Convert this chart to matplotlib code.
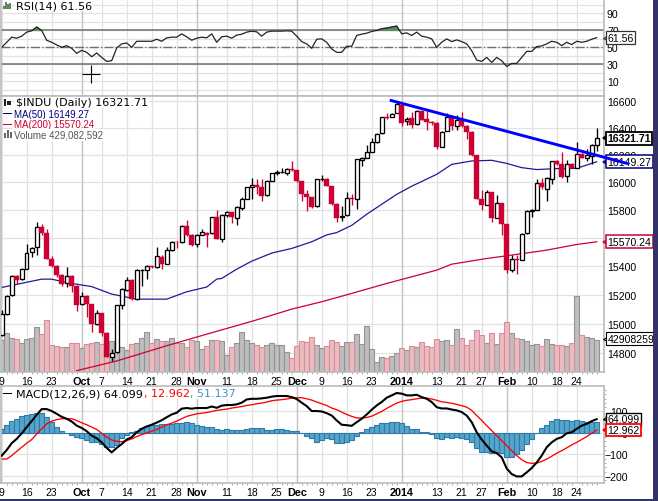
import matplotlib
matplotlib.use("Agg")
import numpy as np
import matplotlib.pyplot as plt
from matplotlib.patches import Rectangle

W, H = 658, 502

opens = [14925, 15065, 15194, 15326, 15305, 15379, 15495, 15530, 15677, 15635, 15451, 15400, 15334, 15280, 15328,
         15258, 15134, 15190, 15132, 14994, 15070, 14935, 14776, 14808, 15125, 15230, 15300, 15170, 15370, 15372,
         15399, 15392, 15466, 15415, 15512, 15570, 15570, 15680, 15620, 15555, 15620, 15635, 15630, 15750,
         15593, 15760, 15780, 15740, 15809, 15877, 15962, 15976, 15967, 15905, 16010, 16066, 16072, 16070, 16098,
         16085, 16005, 15910, 15889, 15825, 16020, 16025, 15970, 15840, 15745, 15760, 15886, 15875, 16165, 16180,
         16225, 16295, 16360, 16480, 16484, 16512, 16572, 16456, 16472, 16430, 16527, 16470, 16444, 16437,
         16258, 16377, 16480, 16415, 16460, 16414, 16372, 16197, 15879, 15837, 15925, 15740, 15845, 15698, 15372,
         15445, 15443, 15630, 15794, 15801, 15994, 15950, 16020, 16154, 16135, 16042, 16135, 16105, 16208, 16180,
         16195, 16272]
highs = [15091, 15200, 15335, 15333, 15385, 15552, 15535, 15709, 15700, 15660, 15470, 15405, 15340, 15395, 15335,
         15265, 15215, 15200, 15135, 15095, 15075, 14940, 14830, 15130, 15245, 15320, 15310, 15380, 15380, 15405,
         15402, 15530, 15475, 15530, 15575, 15575, 15690, 15728, 15625, 15625, 15660, 15640, 15750, 15795,
         15770, 15790, 15785, 15830, 15890, 15965, 16030, 16020, 16020, 16015, 16070, 16085, 16105, 16100, 16155,
         16090, 16010, 15945, 15895, 16025, 16050, 16030, 15975, 15845, 15825, 15930, 15915, 16170, 16185, 16275,
         16325, 16360, 16482, 16515, 16510, 16605, 16575, 16485, 16520, 16535, 16530, 16525, 16450, 16445,
         16380, 16510, 16490, 16495, 16520, 16420, 16375, 16200, 15945, 15940, 15930, 15905, 15850, 15700, 15480,
         15480, 15632, 15797, 15805, 16025, 16030, 16035, 16158, 16160, 16224, 16160, 16140, 16298, 16215, 16240,
         16278, 16400]
lows = [14915, 15060, 15190, 15270, 15300, 15375, 15460, 15480, 15620, 15445, 15390, 15325, 15260, 15250, 15215,
        15085, 15125, 15045, 14945, 14990, 14915, 14770, 14745, 14800, 15100, 15225, 15165, 15165, 15260, 15310,
        15385, 15385, 15375, 15410, 15505, 15525, 15565, 15610, 15540, 15535, 15615, 15530, 15625, 15590,
        15570, 15750, 15705, 15690, 15800, 15875, 15880, 15910, 15860, 15900, 16005, 16050, 16065, 16050, 16080,
        16000, 15865, 15790, 15810, 15820, 16010, 15968, 15835, 15710, 15720, 15755, 15835, 15805, 16120, 16175,
        16222, 16290, 16355, 16465, 16480, 16510, 16415, 16425, 16400, 16425, 16460, 16385, 16425, 16240,
        16255, 16375, 16385, 16385, 16410, 16320, 16195, 15875, 15795, 15835, 15712, 15738, 15615, 15352, 15360,
        15340, 15440, 15625, 15745, 15798, 15950, 15865, 15985, 16125, 16030, 16000, 16100, 16100, 16175, 16155,
        16130, 16230]
closes = [15063, 15191, 15326, 15300, 15376, 15494, 15529, 15676, 15636, 15451, 15401, 15334, 15273, 15328, 15258,
          15129, 15191, 15133, 14996, 15072, 14936, 14776, 14802, 15126, 15237, 15301, 15168, 15373, 15371, 15399,
          15392, 15467, 15413, 15509, 15570, 15568, 15680, 15618, 15545, 15615, 15639, 15618, 15746, 15593,
          15761, 15783, 15750, 15821, 15876, 15961, 15976, 15967, 15900, 16009, 16064, 16072, 16072, 16097, 16086,
          16008, 15914, 15889, 15821, 16020, 16025, 15973, 15843, 15739, 15755, 15884, 15875, 16167, 16179, 16221,
          16294, 16357, 16479, 16478, 16504, 16577, 16441, 16469, 16425, 16530, 16462, 16444, 16437, 16257,
          16373, 16481, 16417, 16458, 16414, 16373, 16197, 15879, 15837, 15928, 15738, 15848, 15698, 15372, 15445,
          15440, 15628, 15794, 15801, 15994, 15963, 16027, 16154, 16130, 16040, 16133, 16103, 16207, 16179, 16198,
          16272, 16321.71]
volumes = [429, 517, 451, 438, 385, 438, 451, 597, 508, 694, 362, 340, 332, 332, 385, 385, 318, 376, 385, 398,
           376, 305, 407, 398, 332, 296, 371, 385, 451, 530, 385, 442, 415, 415, 451, 385, 385, 327, 429, 407,
           305, 349, 429, 420, 407, 230, 332, 385, 530, 429, 385, 354, 327, 354, 385, 362, 362, 265, 186, 340,
           411, 398, 464, 362, 318, 340, 429, 402, 340, 398, 398, 508, 376, 614, 305, 133, 199, 186, 217, 252,
           318, 292, 349, 332, 398, 349, 336, 438, 411, 420, 354, 566, 446, 354, 429, 552, 495, 389, 513, 376,
           513, 659, 522, 455, 433, 411, 354, 367, 345, 433, 367, 362, 362, 349, 389, 1003, 495, 460, 455, 429]

# moving averages, read at the bars where the curve bends
ma50_bars = [0, 8, 10, 13, 18, 22, 25, 27, 33, 37, 41, 43, 44, 47, 50, 54, 58, 62, 65, 67, 70, 73, 76, 79, 82, 87,
             90, 94, 98, 101, 104, 107, 111, 115, 119]
ma50 = [15249, 15307, 15307, 15283, 15255, 15203, 15182, 15168, 15168, 15219, 15252, 15307, 15312, 15377, 15433,
        15490, 15523, 15570, 15619, 15636, 15687, 15767, 15839, 15911, 15970, 16057, 16130, 16155, 16160, 16137,
        16106, 16092, 16099, 16101, 16149.27]
ma200_bars = [15, 23, 33, 43, 50, 58, 64, 69, 77, 87, 90, 97, 101, 109, 115, 119]
ma200 = [14681, 14746, 14849, 14947, 15015, 15099, 15150, 15198, 15277, 15370, 15412, 15452, 15471, 15511, 15551,
         15570.24]

rsi = [50.2, 56.1, 62.1, 60.9, 63.3, 68.0, 69.6, 74.0, 70.0, 58.5, 56.1, 53.0, 50.2, 52.2, 49.0, 43.1, 46.6, 44.3,
       39.1, 43.5, 38.3, 33.6, 34.4, 49.4, 54.2, 55.3, 50.2, 57.3, 57.3, 57.3, 57.3, 59.7, 57.3, 61.3, 62.1, 62.1,
       66.0, 62.5, 58.5, 60.9, 62.1, 61.3, 66.0, 56.1, 62.5, 63.3, 60.9, 64.5, 65.6, 68.0, 69.2, 68.4, 63.3, 68.0,
       69.2, 69.2, 69.2, 69.6, 69.2, 63.3, 56.9, 54.2, 49.0, 59.7, 60.1, 56.1, 48.2, 44.3, 44.3, 51.4, 51.4, 64.1,
       65.6, 66.8, 68.8, 70.0, 72.0, 72.8, 74.0, 75.1, 66.0, 67.2, 64.1, 68.0, 63.3, 62.1, 60.1, 50.2, 56.1, 60.1,
       56.9, 58.9, 56.9, 54.2, 46.2, 35.2, 33.6, 38.3, 32.4, 38.3, 34.4, 27.6, 31.2, 31.2, 38.3, 45.4, 45.4, 51.0,
       51.8, 54.2, 57.3, 56.1, 52.2, 56.1, 53.4, 57.3, 56.1, 57.3, 59.7, 61.56]

macd = [-106, -80, -48, -28, -2, 27, 55, 84, 111, 111, 102, 89, 75, 66, 53, 34, 23, 8, -13, -25, -44, -70, -91, -70,
        -52, -31, -20, 3, 19, 30, 38, 48, 59, 73, 86, 94, 113, 116, 113, 116, 116, 116, 123, 117, 127, 130, 130, 133,
        141, 156, 159, 159, 161, 164, 169, 172, 172, 172, 167, 158, 141, 125, 102, 102, 100, 92, 81,
        58, 38, 36, 33, 50, 66, 86, 108, 128, 144, 164, 175, 186, 183, 175, 175, 178, 167, 159, 144, 120, 114, 114,
        109, 105, 97, 81, 50, 3, -31, -59, -86, -94, -114, -166, -192, -203, -203, -184, -164, -138, -106, -67, -44,
        -28, -20, -2, 3, 19, 34, 42, 55, 64.099]
signal = [-122, -122, -106, -86, -67, -48, -31, -5, 19, 42, 55, 62, 66, 66, 66, 58, 47, 38, 27, 16, -2, -20, -33, -39,
          -41, -36, -28, -17, -8, 0, 8, 16, 27, 38, 45, 55, 66, 77, 83, 89, 92, 95, 100, 105, 108, 111, 116, 119, 123,
          128, 131, 136, 139, 144, 150, 153, 155, 158, 162, 164, 164, 159, 153, 144, 136, 128, 116,
          108, 97, 86, 77, 70, 69, 72, 78, 89, 100, 114, 127, 139, 147, 152, 155, 159, 162, 162, 158, 152, 145, 142,
          138, 133, 127, 120, 105, 81, 58, 34, 11, -13, -36, -59, -83, -106, -125, -138, -142, -141, -133, -122, -109,
          -95, -83, -70, -56, -44, -31, -17, -2, 12.962]
hist = [19, 39, 56, 66, 77, 83, 88, 91, 92, 73, 53, 27, 11, 0, -9, -20, -25, -31, -41, -44, -50, -64, -67, -55, -23,
        -9, 3, 11, 23, 34, 39, 39, 42, 42, 42, 47, 48, 53, 47, 38, 30, 28, 27, 19, 14, 16, 14, 14, 14, 20, 22, 22, 22,
        14, 14, 19, 16, 12, 11, 8, -2, -13, -25, -41, -31, -25, -28,
        -47, -47, -41, -31, -13, 3, 16, 27, 38, 45, 48, 50, 50, 45, 31, 19, 16, 6, 2, -5, -25, -30, -20, -25, -20, -23,
        -27, -41, -70, -88, -88, -95, -91, -92, -111, -111, -98, -78, -52, -27, 0, 22, 36, 55, 66, 62, 61, 56, 61, 56,
        50, 50, 51.137]

tick_bars = [0, 5, 10, 16, 20, 25, 30, 35, 39, 45, 50, 55, 59, 64, 69, 74, 80, 87, 92, 96, 101, 106, 111, 115]
tick_labels = ["9", "16", "23", "Oct", "7", "14", "21", "28", "Nov", "11", "18", "25", "Dec", "9", "16", "23", "2014",
               "13", "21", "27", "Feb", "10", "18", "24"]
month_labels = ["Oct", "Nov", "Dec", "2014", "Feb"]
rsi_ticks = [10, 30, 50, 70, 90]
price_ticks = [14800, 15000, 15200, 15400, 15600, 15800, 16000, 16200, 16400, 16600]
macd_ticks = [-200, -100, 0, 100]

LEFT, RIGHT = 1, 603.5
SANS = "Liberation Sans"
RED = "#cc0033"
NAVY = "#000080"
GRID = "#e2e2e2"
MONTH = "#c4c4c4"
FRAME = "#bbbbbb"

plt.rcParams["font.family"] = [SANS, "DejaVu Sans"]
fig = plt.figure(figsize=(W/100, H/100), dpi=100, facecolor="white")


def panel(top, bottom):
    ax = fig.add_axes([LEFT/W, 1 - bottom/H, (RIGHT - LEFT)/W, (bottom - top)/H])
    ax.set_xlim(-0.14, 120.36)
    ax.set_axisbelow(True)
    for spine in ax.spines.values():
        spine.set_color(FRAME)
        spine.set_linewidth(1.2)
    ax.yaxis.tick_right()
    ax.set_xticks(tick_bars)
    ax.set_xticklabels(tick_labels)
    ax.set_xticks(np.arange(120), minor=True)
    ax.tick_params(axis="x", which="major", length=0, labelsize=7.5, pad=2.8)
    ax.tick_params(axis="x", which="minor", length=1.5, color="#999999", width=0.6)
    ax.tick_params(axis="y", length=0, labelsize=7.6, pad=2.5)
    ax.grid(True, color=GRID, linewidth=0.9)
    for bar, label in zip(tick_bars, tick_labels):
        if label in month_labels:
            ax.axvline(bar, color=MONTH, linewidth=1.0, zorder=0.6)
    for t in ax.get_xticklabels():
        if t.get_text() in month_labels:
            t.set_fontweight("bold")
            t.set_fontsize(7.8)
    return ax


def value_tag(ax, y, text, color, lw=0.9, weight="normal"):
    trans = ax.get_yaxis_transform()
    ax.plot([1.005], [y], marker="<", ms=6, mfc="white", mec=color, mew=lw, transform=trans,
            clip_on=False, zorder=6)
    ax.text(1.0065, y, text, transform=trans, ha="left", va="center", fontsize=7.6, fontweight=weight,
            color="black", zorder=7,
            bbox=dict(boxstyle="square,pad=0.13", fc="white", ec=color, lw=lw))


def legend_text(x, y, text, color="black", family="DejaVu Sans", size=8.0):
    fig.text(x/W, 1 - y/H, text, color=color, family=family, fontsize=size, ha="left", va="center",
             zorder=8, bbox=dict(fc="white", ec="none", pad=0.6))


def legend_rect(x, y, w, h, color):
    fig.add_artist(Rectangle((x/W, 1 - (y + h)/H), w/W, h/H, transform=fig.transFigure, fc=color, ec="none",
                             zorder=9))


bars = np.arange(len(closes))
o = np.array(opens, dtype=float)
h = np.array(highs, dtype=float)
l = np.array(lows, dtype=float)
c = np.array(closes, dtype=float)
up = c >= o

# RSI panel
ax_rsi = panel(0, 96.5)
ax_rsi.set_ylim(-6.5, 107)
ax_rsi.set_yticks(rsi_ticks)
ax_rsi.set_yticks(np.arange(0, 110, 10), minor=True)
ax_rsi.tick_params(axis="y", which="minor", length=0)
ax_rsi.grid(True, which="minor", axis="y", color=GRID, linewidth=0.9)
ax_rsi.tick_params(axis="x", which="major", labelbottom=False)
ax_rsi.axhline(70, color="#707070", lw=1.1, zorder=1)
ax_rsi.axhline(30, color="#707070", lw=1.1, zorder=1)
ax_rsi.axhline(50, color="#707070", lw=1.0, ls="-.", zorder=1)
ax_rsi.fill_between(bars, rsi, 70, where=np.array(rsi) >= 70, interpolate=True, color="#5f8a5f", zorder=1.5)
ax_rsi.plot(bars, rsi, color="#222222", lw=0.9, zorder=2)
ax_rsi.plot([17.9], [18.8], marker="+", ms=12.5, mew=0.8, color="black", zorder=5)
value_tag(ax_rsi, 61.56, "61.56", "#333333")

# price panel
ax = panel(96.5, 373)
ax.set_yscale("log")
ax.set_ylim(14672, 16645)
ax.set_yticks(price_ticks)
ax.set_yticklabels([str(p) for p in price_ticks])
ax.minorticks_off()
ax.set_xticks(np.arange(120), minor=True)

vol_top = 3673
vol_up = ~up
ax.bar(bars[up], np.array(volumes)[up]/vol_top, width=1.0, bottom=0, transform=ax.get_xaxis_transform(),
       color="#bebebe", edgecolor="#939393", linewidth=0.8, zorder=1)
ax.bar(bars[vol_up], np.array(volumes)[vol_up]/vol_top, width=1.0, bottom=0, transform=ax.get_xaxis_transform(),
       color="#e9bcc0", edgecolor="#d98d98", linewidth=0.8, zorder=1)

ax.plot(ma50_bars, ma50, color="#1c1c96", lw=0.9, zorder=2)
ax.plot(ma200_bars, ma200, color=RED, lw=0.9, zorder=2)

ax.vlines(bars[up], l[up], h[up], color="black", lw=0.95, zorder=3)
ax.vlines(bars[~up], l[~up], h[~up], color=RED, lw=0.95, zorder=3)
ax.bar(bars[up], (c - o)[up], bottom=o[up], width=0.72, color="white", edgecolor="black", linewidth=0.95, zorder=3.5)
ax.bar(bars[~up], (o - c)[~up], bottom=c[~up], width=0.9, color=RED, edgecolor=RED, linewidth=0.3, zorder=3.5)

# trend line
ax.plot([77.9, 125.1], [16607, 16137], color="#0000ff", lw=2.1, clip_on=False, zorder=10)

value_tag(ax, closes[-1], "16321.71", "black", lw=1.3, weight="bold")
value_tag(ax, ma50[-1], "16149.27", NAVY, lw=1.1)
value_tag(ax, ma200[-1], "15570.24", RED, lw=1.1)
value_tag(ax, 14898, "42908259", "black", lw=0.8)
ax.set_ylim(14672, 16645)

# MACD panel
ax_macd = panel(387, 484)
ax_macd.set_ylim(-233.6, 218.7)
ax_macd.set_yticks(macd_ticks)
ax_macd.set_yticks(np.arange(-220, 220, 20), minor=True)
ax_macd.tick_params(axis="y", which="minor", length=1.5, color="#999999", width=0.6)
ax_macd.tick_params(axis="y", which="major", pad=17.5)
for t in ax_macd.get_yticklabels():
    t.set_ha("right")
ax_macd.bar(bars, hist, width=1.0, color="#56a5cf", edgecolor="#2f7ba6", linewidth=0.8, zorder=1.5)
ax_macd.plot(bars, signal, color="#ff0000", lw=0.95, zorder=2)
ax_macd.plot(bars, macd, color="black", lw=1.5, zorder=3)
value_tag(ax_macd, macd[-1], "64.099", "black", lw=1.0)
value_tag(ax_macd, signal[-1], "12.962", "#ff0000", lw=1.3)

# legends
legend_text(15.7, 6.7, "RSI(14) 61.56")
legend_text(16, 103.5, "$INDU (Daily) 16321.71".replace("$", r"\$"))
legend_text(13.7, 114.5, "MA(50) 16149.27", NAVY, SANS, 7.0)
legend_text(13.7, 125.5, "MA(200) 15570.24", RED, SANS, 7.0)
legend_text(14, 136, "Volume 429,082,592", "#555555", SANS, 7.0)
legend_text(15.7, 394.5, "MACD(12,26,9) 64.099")
legend_text(143.5, 394.5, ", 12.962", "#ff0000")
legend_text(190, 394.5, ", 51.137", "#3f94c4")

# legend icons
legend_rect(3, 113.5, 9, 1.8, NAVY)
legend_rect(3, 124.5, 9, 1.8, RED)
legend_rect(3, 393.5, 9, 1.8, "black")
for x, top in zip([3.5, 6.5, 9.5], [134, 131, 132.5]):
    legend_rect(x, top, 2, 139 - top, "#666666")
legend_rect(3.5, 100, 2, 7, "#222222")
legend_rect(7, 101.5, 3.5, 4, "#222222")
for x, top in zip([3, 5, 7, 9], [7, 3, 5, 4]):
    legend_rect(x, top, 2, 10 - top, "#5f8a5f")

# navy page border at the right and the bottom
fig.add_artist(Rectangle((653/W, 0), 5/W, 1, transform=fig.transFigure, fc="#333366", ec="none", zorder=20))
fig.add_artist(Rectangle((0, 0), 1, 2.5/H, transform=fig.transFigure, fc="#333366", ec="none", zorder=20))

fig.savefig("out.png", dpi=100)
plt.close(fig)
